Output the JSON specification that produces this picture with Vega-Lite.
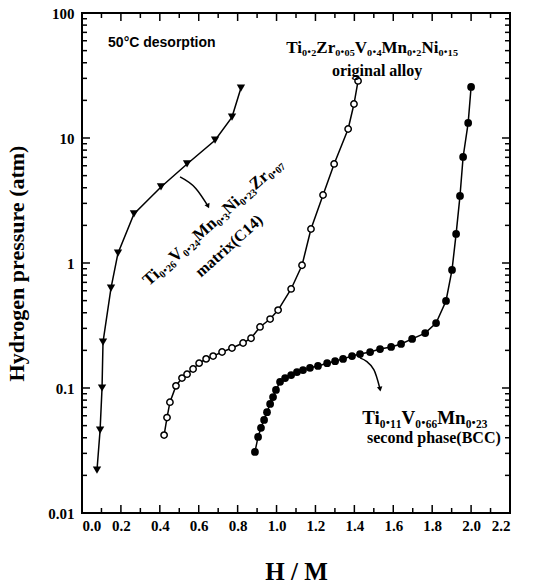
{
  "$schema": "https://vega.github.io/schema/vega-lite/v6.json",
  "autosize": "none",
  "width": 428,
  "height": 500,
  "padding": {"left": 82, "top": 13, "right": 23, "bottom": 72},
  "background": "white",
  "config": {
    "view": {"stroke": "black", "strokeWidth": 2},
    "axis": {
      "domain": false,
      "grid": false,
      "ticks": false,
      "labelFont": "Liberation Serif",
      "labelFontWeight": "bold",
      "labelFontSize": 15,
      "labelColor": "black",
      "titleFont": "Liberation Serif",
      "titleFontWeight": "bold",
      "titleFontSize": 22,
      "titleColor": "black"
    }
  },
  "datasets": {
    "c14": [
      {"h_m": 0.077, "pressure": 0.022},
      {"h_m": 0.093, "pressure": 0.046},
      {"h_m": 0.103, "pressure": 0.1},
      {"h_m": 0.108, "pressure": 0.233},
      {"h_m": 0.149, "pressure": 0.63},
      {"h_m": 0.185, "pressure": 1.2},
      {"h_m": 0.267, "pressure": 2.47},
      {"h_m": 0.406, "pressure": 4.06},
      {"h_m": 0.54, "pressure": 6.2},
      {"h_m": 0.684, "pressure": 9.6},
      {"h_m": 0.771, "pressure": 14.7},
      {"h_m": 0.817, "pressure": 25.1}
    ],
    "alloy": [
      {"h_m": 0.422, "pressure": 0.042},
      {"h_m": 0.437, "pressure": 0.058},
      {"h_m": 0.452, "pressure": 0.077},
      {"h_m": 0.483, "pressure": 0.104},
      {"h_m": 0.514, "pressure": 0.12},
      {"h_m": 0.54, "pressure": 0.129},
      {"h_m": 0.571, "pressure": 0.142},
      {"h_m": 0.602, "pressure": 0.158},
      {"h_m": 0.638, "pressure": 0.171},
      {"h_m": 0.674, "pressure": 0.18},
      {"h_m": 0.72, "pressure": 0.194},
      {"h_m": 0.771, "pressure": 0.209},
      {"h_m": 0.828, "pressure": 0.229},
      {"h_m": 0.869, "pressure": 0.25},
      {"h_m": 0.915, "pressure": 0.308},
      {"h_m": 0.967, "pressure": 0.356},
      {"h_m": 1.008, "pressure": 0.42},
      {"h_m": 1.075, "pressure": 0.62},
      {"h_m": 1.131, "pressure": 0.96},
      {"h_m": 1.177, "pressure": 1.87},
      {"h_m": 1.239, "pressure": 3.5},
      {"h_m": 1.296, "pressure": 6.2},
      {"h_m": 1.368, "pressure": 11.8},
      {"h_m": 1.398, "pressure": 18.7},
      {"h_m": 1.419, "pressure": 28.6}
    ],
    "bcc": [
      {"h_m": 0.889, "pressure": 0.0308},
      {"h_m": 0.905, "pressure": 0.0406},
      {"h_m": 0.92, "pressure": 0.048},
      {"h_m": 0.936, "pressure": 0.0555},
      {"h_m": 0.951, "pressure": 0.064},
      {"h_m": 0.967, "pressure": 0.0745},
      {"h_m": 0.982, "pressure": 0.0847},
      {"h_m": 0.997, "pressure": 0.0964},
      {"h_m": 1.018, "pressure": 0.112},
      {"h_m": 1.044, "pressure": 0.12},
      {"h_m": 1.075, "pressure": 0.127},
      {"h_m": 1.105, "pressure": 0.134},
      {"h_m": 1.136, "pressure": 0.139},
      {"h_m": 1.172, "pressure": 0.145},
      {"h_m": 1.213, "pressure": 0.15},
      {"h_m": 1.26, "pressure": 0.158},
      {"h_m": 1.301, "pressure": 0.164},
      {"h_m": 1.342, "pressure": 0.171},
      {"h_m": 1.388, "pressure": 0.18},
      {"h_m": 1.429, "pressure": 0.187},
      {"h_m": 1.481, "pressure": 0.194},
      {"h_m": 1.532, "pressure": 0.205},
      {"h_m": 1.589, "pressure": 0.213},
      {"h_m": 1.64, "pressure": 0.225},
      {"h_m": 1.697, "pressure": 0.247},
      {"h_m": 1.764, "pressure": 0.275},
      {"h_m": 1.82, "pressure": 0.331},
      {"h_m": 1.871, "pressure": 0.497},
      {"h_m": 1.902, "pressure": 0.88},
      {"h_m": 1.923, "pressure": 1.71},
      {"h_m": 1.943, "pressure": 3.44},
      {"h_m": 1.959, "pressure": 7.05},
      {"h_m": 1.985, "pressure": 13.2},
      {"h_m": 2.0, "pressure": 25.6}
    ],
    "x_ticks": [
      {"h_m": 0.0, "level": "major"}, {"h_m": 0.1, "level": "minor"},
      {"h_m": 0.2, "level": "major"}, {"h_m": 0.3, "level": "minor"},
      {"h_m": 0.4, "level": "major"}, {"h_m": 0.5, "level": "minor"},
      {"h_m": 0.6, "level": "major"}, {"h_m": 0.7, "level": "minor"},
      {"h_m": 0.8, "level": "major"}, {"h_m": 0.9, "level": "minor"},
      {"h_m": 1.0, "level": "major"}, {"h_m": 1.1, "level": "minor"},
      {"h_m": 1.2, "level": "major"}, {"h_m": 1.3, "level": "minor"},
      {"h_m": 1.4, "level": "major"}, {"h_m": 1.5, "level": "minor"},
      {"h_m": 1.6, "level": "major"}, {"h_m": 1.7, "level": "minor"},
      {"h_m": 1.8, "level": "major"}, {"h_m": 1.9, "level": "minor"},
      {"h_m": 2.0, "level": "major"}, {"h_m": 2.1, "level": "minor"},
      {"h_m": 2.2, "level": "major"}
    ],
    "y_ticks": [
      {"pressure": 0.01, "level": "major"},
      {"pressure": 0.02, "level": "minor"}, {"pressure": 0.03, "level": "minor"}, {"pressure": 0.04, "level": "minor"}, {"pressure": 0.05, "level": "minor"},
      {"pressure": 0.06, "level": "minor"}, {"pressure": 0.07, "level": "minor"}, {"pressure": 0.08, "level": "minor"}, {"pressure": 0.09, "level": "minor"},
      {"pressure": 0.1, "level": "major"},
      {"pressure": 0.2, "level": "minor"}, {"pressure": 0.3, "level": "minor"}, {"pressure": 0.4, "level": "minor"}, {"pressure": 0.5, "level": "minor"},
      {"pressure": 0.6, "level": "minor"}, {"pressure": 0.7, "level": "minor"}, {"pressure": 0.8, "level": "minor"}, {"pressure": 0.9, "level": "minor"},
      {"pressure": 1, "level": "major"},
      {"pressure": 2, "level": "minor"}, {"pressure": 3, "level": "minor"}, {"pressure": 4, "level": "minor"}, {"pressure": 5, "level": "minor"},
      {"pressure": 6, "level": "minor"}, {"pressure": 7, "level": "minor"}, {"pressure": 8, "level": "minor"}, {"pressure": 9, "level": "minor"},
      {"pressure": 10, "level": "major"},
      {"pressure": 20, "level": "minor"}, {"pressure": 30, "level": "minor"}, {"pressure": 40, "level": "minor"}, {"pressure": 50, "level": "minor"},
      {"pressure": 60, "level": "minor"}, {"pressure": 70, "level": "minor"}, {"pressure": 80, "level": "minor"}, {"pressure": 90, "level": "minor"},
      {"pressure": 100, "level": "major"}
    ],
    "arrows": [
      {"arrow": "c14", "step": 0, "h_m": 0.504, "pressure": 4.88},
      {"arrow": "c14", "step": 1, "h_m": 0.585, "pressure": 3.95},
      {"arrow": "c14", "step": 2, "h_m": 0.648, "pressure": 2.85},
      {"arrow": "bcc", "step": 0, "h_m": 1.429, "pressure": 0.174},
      {"arrow": "bcc", "step": 1, "h_m": 1.5, "pressure": 0.14},
      {"arrow": "bcc", "step": 2, "h_m": 1.532, "pressure": 0.098}
    ],
    "notes": [
      {"text": "Ti₀.₂Zr₀.₀₅V₀.₄Mn₀.₂Ni₀.₁₅", "h_m": 1.491, "pressure": 52.5, "kind": "formula"},
      {"text": "original alloy", "h_m": 1.517, "pressure": 34.4, "kind": "plain"},
      {"text": "Ti₀.₁₁V₀.₆₆Mn₀.₂₃", "h_m": 1.44, "pressure": 0.0575, "kind": "formula-left"},
      {"text": "second phase(BCC)", "h_m": 1.465, "pressure": 0.0398, "kind": "plain-left"}
    ],
    "tilted": [
      {"text": "Ti₀.₂₆V₀.₂₄Mn₀.₃Ni₀.₂₃Zr₀.₀₇", "h_m": 0.674, "pressure": 2.13, "kind": "formula"},
      {"text": "matrix(C14)", "h_m": 0.756, "pressure": 1.37, "kind": "plain"}
    ]
  },
  "layer": [
    {
      "data": {"name": "c14"},
      "mark": {"type": "line", "color": "black", "strokeWidth": 1.5},
      "encoding": {
        "x": {"field": "h_m", "type": "quantitative", "scale": {"domain": [0, 2.2], "nice": false, "zero": false}, "axis": {"orient": "bottom", "title": "H / M", "titleFontSize": 25, "values": [0, 0.2, 0.4, 0.6, 0.8, 1.0, 1.2, 1.4, 1.6, 1.8, 2.0, 2.2], "format": ".1f", "labelPadding": 5, "titlePadding": 26}},
        "y": {"field": "pressure", "type": "quantitative", "scale": {"type": "log", "domain": [0.01, 100], "nice": false}, "axis": {"orient": "left", "title": "Hydrogen pressure (atm)", "values": [0.01, 0.1, 1, 10, 100], "format": "~g", "labelPadding": 8, "titlePadding": 19}}
      }
    },
    {
      "data": {"name": "c14"},
      "mark": {"type": "point", "shape": "triangle-down", "filled": true, "color": "black", "size": 70, "opacity": 1},
      "encoding": {
        "x": {"field": "h_m", "type": "quantitative", "scale": {"domain": [0, 2.2], "nice": false, "zero": false}, "axis": null},
        "y": {"field": "pressure", "type": "quantitative", "scale": {"type": "log", "domain": [0.01, 100], "nice": false}, "axis": null}
      }
    },
    {
      "data": {"name": "alloy"},
      "mark": {"type": "line", "color": "black", "strokeWidth": 1.5},
      "encoding": {
        "x": {"field": "h_m", "type": "quantitative", "scale": {"domain": [0, 2.2], "nice": false, "zero": false}, "axis": null},
        "y": {"field": "pressure", "type": "quantitative", "scale": {"type": "log", "domain": [0.01, 100], "nice": false}, "axis": null}
      }
    },
    {
      "data": {"name": "alloy"},
      "mark": {"type": "point", "shape": "circle", "filled": true, "fill": "white", "stroke": "black", "strokeWidth": 1.5, "size": 40, "opacity": 1},
      "encoding": {
        "x": {"field": "h_m", "type": "quantitative", "scale": {"domain": [0, 2.2], "nice": false, "zero": false}, "axis": null},
        "y": {"field": "pressure", "type": "quantitative", "scale": {"type": "log", "domain": [0.01, 100], "nice": false}, "axis": null}
      }
    },
    {
      "data": {"name": "bcc"},
      "mark": {"type": "line", "color": "black", "strokeWidth": 1.5},
      "encoding": {
        "x": {"field": "h_m", "type": "quantitative", "scale": {"domain": [0, 2.2], "nice": false, "zero": false}, "axis": null},
        "y": {"field": "pressure", "type": "quantitative", "scale": {"type": "log", "domain": [0.01, 100], "nice": false}, "axis": null}
      }
    },
    {
      "data": {"name": "bcc"},
      "mark": {"type": "point", "shape": "circle", "filled": true, "color": "black", "size": 60, "opacity": 1},
      "encoding": {
        "x": {"field": "h_m", "type": "quantitative", "scale": {"domain": [0, 2.2], "nice": false, "zero": false}, "axis": null},
        "y": {"field": "pressure", "type": "quantitative", "scale": {"type": "log", "domain": [0.01, 100], "nice": false}, "axis": null}
      }
    },
    {
      "data": {"name": "x_ticks"},
      "transform": [{"filter": "datum.level === 'major'"}],
      "mark": {"type": "rule", "color": "black", "strokeWidth": 1.5},
      "encoding": {
        "x": {"field": "h_m", "type": "quantitative", "scale": {"domain": [0, 2.2], "nice": false, "zero": false}, "axis": null},
        "y": {"datum": 0.01, "type": "quantitative", "scale": {"type": "log", "domain": [0.01, 100], "nice": false}, "axis": null},
        "y2": {"datum": 0.01159}
      }
    },
    {
      "data": {"name": "x_ticks"},
      "transform": [{"filter": "datum.level === 'minor'"}],
      "mark": {"type": "rule", "color": "black", "strokeWidth": 1.5},
      "encoding": {
        "x": {"field": "h_m", "type": "quantitative", "scale": {"domain": [0, 2.2], "nice": false, "zero": false}, "axis": null},
        "y": {"datum": 0.01, "type": "quantitative", "scale": {"type": "log", "domain": [0.01, 100], "nice": false}, "axis": null},
        "y2": {"datum": 0.010965}
      }
    },
    {
      "data": {"name": "x_ticks"},
      "transform": [{"filter": "datum.level === 'major'"}],
      "mark": {"type": "rule", "color": "black", "strokeWidth": 1.5},
      "encoding": {
        "x": {"field": "h_m", "type": "quantitative", "scale": {"domain": [0, 2.2], "nice": false, "zero": false}, "axis": null},
        "y": {"datum": 100, "type": "quantitative", "scale": {"type": "log", "domain": [0.01, 100], "nice": false}, "axis": null},
        "y2": {"datum": 86.3}
      }
    },
    {
      "data": {"name": "x_ticks"},
      "transform": [{"filter": "datum.level === 'minor'"}],
      "mark": {"type": "rule", "color": "black", "strokeWidth": 1.5},
      "encoding": {
        "x": {"field": "h_m", "type": "quantitative", "scale": {"domain": [0, 2.2], "nice": false, "zero": false}, "axis": null},
        "y": {"datum": 100, "type": "quantitative", "scale": {"type": "log", "domain": [0.01, 100], "nice": false}, "axis": null},
        "y2": {"datum": 91.2}
      }
    },
    {
      "data": {"name": "y_ticks"},
      "transform": [{"filter": "datum.level === 'major'"}],
      "mark": {"type": "rule", "color": "black", "strokeWidth": 1.5},
      "encoding": {
        "y": {"field": "pressure", "type": "quantitative", "scale": {"type": "log", "domain": [0.01, 100], "nice": false}, "axis": null},
        "x": {"datum": 0, "type": "quantitative", "scale": {"domain": [0, 2.2], "nice": false, "zero": false}, "axis": null},
        "x2": {"datum": 0.0411}
      }
    },
    {
      "data": {"name": "y_ticks"},
      "transform": [{"filter": "datum.level === 'minor'"}],
      "mark": {"type": "rule", "color": "black", "strokeWidth": 1.5},
      "encoding": {
        "y": {"field": "pressure", "type": "quantitative", "scale": {"type": "log", "domain": [0.01, 100], "nice": false}, "axis": null},
        "x": {"datum": 0, "type": "quantitative", "scale": {"domain": [0, 2.2], "nice": false, "zero": false}, "axis": null},
        "x2": {"datum": 0.0257}
      }
    },
    {
      "data": {"name": "y_ticks"},
      "transform": [{"filter": "datum.level === 'major'"}],
      "mark": {"type": "rule", "color": "black", "strokeWidth": 1.5},
      "encoding": {
        "y": {"field": "pressure", "type": "quantitative", "scale": {"type": "log", "domain": [0.01, 100], "nice": false}, "axis": null},
        "x": {"datum": 2.2, "type": "quantitative", "scale": {"domain": [0, 2.2], "nice": false, "zero": false}, "axis": null},
        "x2": {"datum": 2.1589}
      }
    },
    {
      "data": {"name": "y_ticks"},
      "transform": [{"filter": "datum.level === 'minor'"}],
      "mark": {"type": "rule", "color": "black", "strokeWidth": 1.5},
      "encoding": {
        "y": {"field": "pressure", "type": "quantitative", "scale": {"type": "log", "domain": [0.01, 100], "nice": false}, "axis": null},
        "x": {"datum": 2.2, "type": "quantitative", "scale": {"domain": [0, 2.2], "nice": false, "zero": false}, "axis": null},
        "x2": {"datum": 2.1743}
      }
    },
    {
      "data": {"name": "arrows"},
      "mark": {"type": "line", "color": "black", "strokeWidth": 1.5, "interpolate": "monotone"},
      "encoding": {
        "x": {"field": "h_m", "type": "quantitative", "scale": {"domain": [0, 2.2], "nice": false, "zero": false}, "axis": null},
        "y": {"field": "pressure", "type": "quantitative", "scale": {"type": "log", "domain": [0.01, 100], "nice": false}, "axis": null},
        "detail": {"field": "arrow"},
        "order": {"field": "step"}
      }
    },
    {
      "data": {"name": "arrows"},
      "transform": [{"filter": "datum.arrow === 'c14' && datum.step === 2"}],
      "mark": {"type": "point", "shape": "triangle-down", "filled": true, "color": "black", "size": 30, "angle": 335, "opacity": 1},
      "encoding": {
        "x": {"field": "h_m", "type": "quantitative", "scale": {"domain": [0, 2.2], "nice": false, "zero": false}, "axis": null},
        "y": {"field": "pressure", "type": "quantitative", "scale": {"type": "log", "domain": [0.01, 100], "nice": false}, "axis": null}
      }
    },
    {
      "data": {"name": "arrows"},
      "transform": [{"filter": "datum.arrow === 'bcc' && datum.step === 2"}],
      "mark": {"type": "point", "shape": "triangle-down", "filled": true, "color": "black", "size": 30, "angle": 350, "opacity": 1},
      "encoding": {
        "x": {"field": "h_m", "type": "quantitative", "scale": {"domain": [0, 2.2], "nice": false, "zero": false}, "axis": null},
        "y": {"field": "pressure", "type": "quantitative", "scale": {"type": "log", "domain": [0.01, 100], "nice": false}, "axis": null}
      }
    },
    {
      "data": {"values": [{"text": "50°C desorption", "h_m": 0.134, "pressure": 57.5}]},
      "mark": {"type": "text", "font": "Liberation Sans", "fontWeight": "bold", "fontSize": 14, "align": "left", "baseline": "middle", "color": "black"},
      "encoding": {
        "x": {"field": "h_m", "type": "quantitative", "scale": {"domain": [0, 2.2], "nice": false, "zero": false}, "axis": null},
        "y": {"field": "pressure", "type": "quantitative", "scale": {"type": "log", "domain": [0.01, 100], "nice": false}, "axis": null},
        "text": {"field": "text"}
      }
    },
    {
      "data": {"name": "notes"},
      "transform": [{"filter": "datum.kind === 'formula'"}],
      "mark": {"type": "text", "font": "Liberation Serif", "fontWeight": "bold", "fontSize": 17, "align": "center", "baseline": "middle", "color": "black"},
      "encoding": {
        "x": {"field": "h_m", "type": "quantitative", "scale": {"domain": [0, 2.2], "nice": false, "zero": false}, "axis": null},
        "y": {"field": "pressure", "type": "quantitative", "scale": {"type": "log", "domain": [0.01, 100], "nice": false}, "axis": null},
        "text": {"field": "text"}
      }
    },
    {
      "data": {"name": "notes"},
      "transform": [{"filter": "datum.kind === 'plain'"}],
      "mark": {"type": "text", "font": "Liberation Serif", "fontWeight": "bold", "fontSize": 16, "align": "center", "baseline": "middle", "color": "black"},
      "encoding": {
        "x": {"field": "h_m", "type": "quantitative", "scale": {"domain": [0, 2.2], "nice": false, "zero": false}, "axis": null},
        "y": {"field": "pressure", "type": "quantitative", "scale": {"type": "log", "domain": [0.01, 100], "nice": false}, "axis": null},
        "text": {"field": "text"}
      }
    },
    {
      "data": {"name": "notes"},
      "transform": [{"filter": "datum.kind === 'formula-left'"}],
      "mark": {"type": "text", "font": "Liberation Serif", "fontWeight": "bold", "fontSize": 19, "align": "left", "baseline": "middle", "color": "black"},
      "encoding": {
        "x": {"field": "h_m", "type": "quantitative", "scale": {"domain": [0, 2.2], "nice": false, "zero": false}, "axis": null},
        "y": {"field": "pressure", "type": "quantitative", "scale": {"type": "log", "domain": [0.01, 100], "nice": false}, "axis": null},
        "text": {"field": "text"}
      }
    },
    {
      "data": {"name": "notes"},
      "transform": [{"filter": "datum.kind === 'plain-left'"}],
      "mark": {"type": "text", "font": "Liberation Serif", "fontWeight": "bold", "fontSize": 16, "align": "left", "baseline": "middle", "color": "black"},
      "encoding": {
        "x": {"field": "h_m", "type": "quantitative", "scale": {"domain": [0, 2.2], "nice": false, "zero": false}, "axis": null},
        "y": {"field": "pressure", "type": "quantitative", "scale": {"type": "log", "domain": [0.01, 100], "nice": false}, "axis": null},
        "text": {"field": "text"}
      }
    },
    {
      "data": {"name": "tilted"},
      "transform": [{"filter": "datum.kind === 'formula'"}],
      "mark": {"type": "text", "font": "Liberation Serif", "fontWeight": "bold", "fontSize": 17, "align": "center", "baseline": "middle", "angle": 318, "color": "black"},
      "encoding": {
        "x": {"field": "h_m", "type": "quantitative", "scale": {"domain": [0, 2.2], "nice": false, "zero": false}, "axis": null},
        "y": {"field": "pressure", "type": "quantitative", "scale": {"type": "log", "domain": [0.01, 100], "nice": false}, "axis": null},
        "text": {"field": "text"}
      }
    },
    {
      "data": {"name": "tilted"},
      "transform": [{"filter": "datum.kind === 'plain'"}],
      "mark": {"type": "text", "font": "Liberation Serif", "fontWeight": "bold", "fontSize": 16, "align": "center", "baseline": "middle", "angle": 318, "color": "black"},
      "encoding": {
        "x": {"field": "h_m", "type": "quantitative", "scale": {"domain": [0, 2.2], "nice": false, "zero": false}, "axis": null},
        "y": {"field": "pressure", "type": "quantitative", "scale": {"type": "log", "domain": [0.01, 100], "nice": false}, "axis": null},
        "text": {"field": "text"}
      }
    }
  ],
  "resolve": {"axis": {"x": "independent", "y": "independent"}}
}
